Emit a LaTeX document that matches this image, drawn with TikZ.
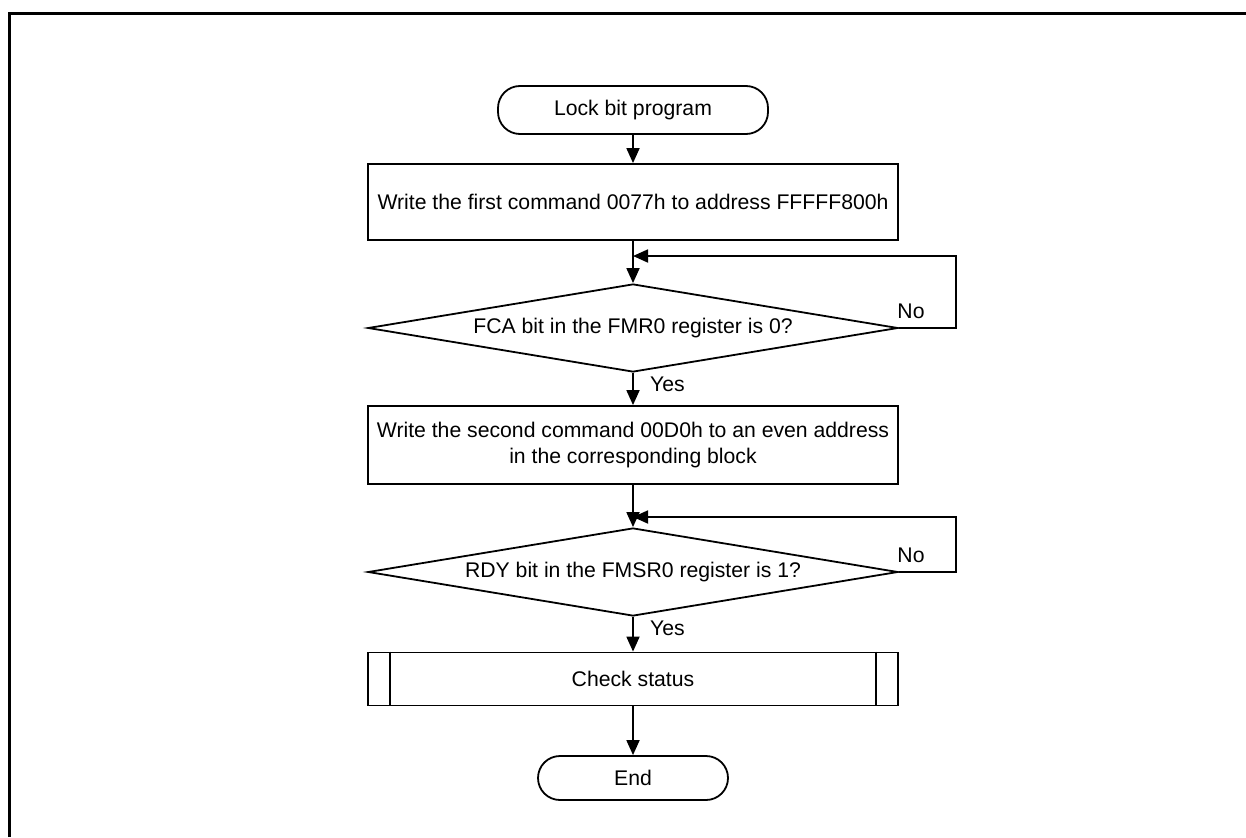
\documentclass[tikz,border=0pt]{standalone}
\usepackage{fontspec}
\setmainfont{Liberation Sans}
\usetikzlibrary{shapes.geometric,arrows.meta,calc}
\begin{document}
\begin{tikzpicture}[x=1pt,y=-1pt,
  every node/.style={font=\fontsize{21.2}{26}\selectfont},
  box/.style={draw,line width=1.8pt,rectangle,minimum width=530pt,inner sep=0pt,align=center},
  term/.style={draw,line width=1.8pt,rectangle,rounded corners=22pt,inner sep=0pt},
  dec/.style={draw,line width=1.8pt,diamond,aspect=6,minimum width=530pt,minimum height=88pt,inner sep=0pt},
  arr/.style={line width=1.8pt,-{Triangle[length=15pt,width=13pt]}},
  lbl/.style={inner sep=0pt}]
\useasboundingbox (0,0) rectangle (1246,837);
\draw[line width=3pt] (9,837) -- (9,14) -- (1246,14);

\node[term,minimum width=270pt,minimum height=48pt] (start) at (633,110) {Lock bit program};
\node[box,minimum height=76pt] (p1) at (633,202) {Write the first command 0077h to address FFFFF800h};
\node[dec] (d1) at (633,328) {FCA bit in the FMR0 register is 0?};
\node[box,minimum height=78pt] (p2) at (633,445) {Write the second command 00D0h to an even address\\in the corresponding block};
\node[dec] (d2) at (633,572) {RDY bit in the FMSR0 register is 1?};
\node[box,minimum height=53pt] (pp) at (633,679) {Check status};
\draw[line width=1.8pt] ([xshift=23pt]pp.north west) -- ([xshift=23pt]pp.south west);
\draw[line width=1.8pt] ([xshift=-23pt]pp.north east) -- ([xshift=-23pt]pp.south east);
\node[term,minimum width=190pt,minimum height=44pt] (end) at (633,778) {End};

\coordinate (j1) at (633,256);
\coordinate (j2) at (633,517);

\draw[arr] (start.south) -- (p1.north);
\draw[arr] (p1.south) -- (d1.north);
\draw[arr] (d1.east) -- ++(57,0) |- (j1);
\draw[arr] (d1.south) -- (p2.north);
\draw[arr] (p2.south) -- (d2.north);
\draw[arr] (d2.east) -- ++(57,0) |- (j2);
\draw[arr] (d2.south) -- (pp.north);
\draw[arr] (pp.south) -- (end.north);

\node[lbl] (no1) at (911,311) {No};
\node[lbl,anchor=west] (yes1) at (650,384) {Yes};
\node[lbl] (no2) at (911,555) {No};
\node[lbl,anchor=west] (yes2) at (650,628) {Yes};
\end{tikzpicture}
\end{document}
